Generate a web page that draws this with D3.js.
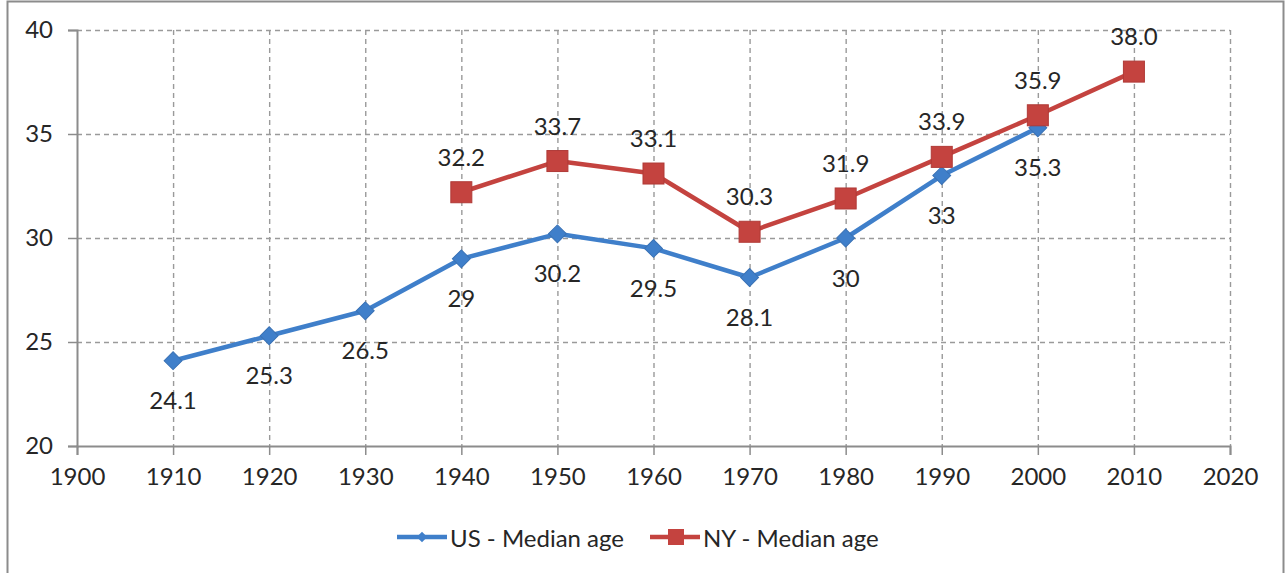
<!DOCTYPE html>
<html>
<head>
<meta charset="utf-8">
<script src="https://cdn.jsdelivr.net/npm/d3@7"></script>
<style>
  html, body { margin: 0; padding: 0; background: #fff; }
  #chart { width: 1286px; height: 573px; }
  text { font-family: Lato, "Open Sans", sans-serif; fill: #262626; }
</style>
</head>
<body>
<div id="chart"></div>
<script>
// Data
const usYears = [1910, 1920, 1930, 1940, 1950, 1960, 1970, 1980, 1990, 2000];
const usValues = [24.1, 25.3, 26.5, 29, 30.2, 29.5, 28.1, 30, 33, 35.3];
const usLabels = ["24.1", "25.3", "26.5", "29", "30.2", "29.5", "28.1", "30", "33", "35.3"];

const nyYears = [1940, 1950, 1960, 1970, 1980, 1990, 2000, 2010];
const nyValues = [32.2, 33.7, 33.1, 30.3, 31.9, 33.9, 35.9, 38.0];
const nyLabels = ["32.2", "33.7", "33.1", "30.3", "31.9", "33.9", "35.9", "38.0"];

const xTicks = [1900, 1910, 1920, 1930, 1940, 1950, 1960, 1970, 1980, 1990, 2000, 2010, 2020];
const yTicks = [20, 25, 30, 35, 40];

const blue = "#3f7fca";
const red = "#c4433f";
const gridColor = "#9a9a9a";
const fontSize = 24;

const width = 1286, height = 573;
const svg = d3.select("#chart").append("svg")
    .attr("width", width)
    .attr("height", height);

// outer chart border
svg.append("rect")
    .attr("x", 7.5).attr("y", 1.5)
    .attr("width", 1276).attr("height", 580)
    .attr("fill", "none")
    .attr("stroke", "#8c8c8c")
    .attr("stroke-width", 2);

const x = d3.scaleLinear().domain([1900, 2020]).range([77, 1230]);
const y = d3.scaleLinear().domain([20, 40]).range([446, 30]);

// grid lines
const grid = svg.append("g");
grid.selectAll(".hgrid")
    .data(yTicks.filter(d => d > 20))
    .enter().append("line")
    .attr("x1", x(1900)).attr("x2", x(2020))
    .attr("y1", d => y(d) + 0.5).attr("y2", d => y(d) + 0.5)
    .attr("stroke", gridColor)
    .attr("stroke-width", 1.4)
    .attr("stroke-dasharray", "5,4");
grid.selectAll(".vgrid")
    .data(xTicks.filter(d => d > 1900))
    .enter().append("line")
    .attr("x1", d => x(d) + 0.5).attr("x2", d => x(d) + 0.5)
    .attr("y1", y(40)).attr("y2", y(20))
    .attr("stroke", gridColor)
    .attr("stroke-width", 1.4)
    .attr("stroke-dasharray", "5,4");

// axes
const xAxis = svg.append("g")
    .attr("transform", `translate(0,${y(20)})`)
    .call(d3.axisBottom(x).tickValues(xTicks).tickFormat(d3.format("d")).tickSize(9).tickPadding(13));
const yAxis = svg.append("g")
    .attr("transform", `translate(${x(1900)},0)`)
    .call(d3.axisLeft(y).tickValues(yTicks).tickSize(9).tickPadding(15));

[xAxis, yAxis].forEach(a => {
    a.select(".domain").attr("stroke", "#8c8c8c").attr("stroke-width", 2);
    a.selectAll(".tick line").attr("stroke", "#8c8c8c").attr("stroke-width", 1.5);
    a.selectAll(".tick text")
        .attr("font-size", fontSize)
        .attr("font-family", "Lato, 'Open Sans', sans-serif")
        .attr("fill", "#262626");
});

const line = d3.line().x(d => x(d[0])).y(d => y(d[1]));
const usData = usYears.map((yr, i) => [yr, usValues[i], usLabels[i]]);
const nyData = nyYears.map((yr, i) => [yr, nyValues[i], nyLabels[i]]);

// US series
svg.append("path")
    .datum(usData)
    .attr("d", line)
    .attr("fill", "none")
    .attr("stroke", blue)
    .attr("stroke-width", 4.5)
    .attr("stroke-linejoin", "round");

const diamond = d3.symbol().type(d3.symbolSquare).size(160);
svg.selectAll(".usPt")
    .data(usData)
    .enter().append("path")
    .attr("d", diamond)
    .attr("transform", d => `translate(${x(d[0])},${y(d[1])}) rotate(45)`)
    .attr("fill", blue)
    .attr("stroke", "#3a72b5")
    .attr("stroke-width", 1);

// NY series
svg.append("path")
    .datum(nyData)
    .attr("d", line)
    .attr("fill", "none")
    .attr("stroke", red)
    .attr("stroke-width", 4.5)
    .attr("stroke-linejoin", "round");

svg.selectAll(".nyPt")
    .data(nyData)
    .enter().append("rect")
    .attr("x", d => x(d[0]) - 10.5)
    .attr("y", d => y(d[1]) - 10.5)
    .attr("width", 21).attr("height", 21)
    .attr("fill", red)
    .attr("stroke", "#b03a37")
    .attr("stroke-width", 1);

// data labels
svg.selectAll(".usLbl")
    .data(usData)
    .enter().append("text")
    .attr("x", d => x(d[0]))
    .attr("y", d => y(d[1]) + 39)
    .attr("text-anchor", "middle")
    .attr("dominant-baseline", "central")
    .attr("font-size", fontSize)
    .text(d => d[2]);

svg.selectAll(".nyLbl")
    .data(nyData)
    .enter().append("text")
    .attr("x", d => x(d[0]))
    .attr("y", d => y(d[1]) - 36)
    .attr("text-anchor", "middle")
    .attr("dominant-baseline", "central")
    .attr("font-size", fontSize)
    .text(d => d[2]);

// legend
const legend = svg.append("g").attr("transform", "translate(0,537)");
const series = [
    { name: "US - Median age", color: blue, x0: 397, shape: "diamond" },
    { name: "NY - Median age", color: red, x0: 650, shape: "square" }
];
series.forEach(s => {
    legend.append("line")
        .attr("x1", s.x0).attr("x2", s.x0 + 50)
        .attr("y1", 0).attr("y2", 0)
        .attr("stroke", s.color)
        .attr("stroke-width", 4.5);
    if (s.shape === "diamond") {
        legend.append("path")
            .attr("d", d3.symbol().type(d3.symbolSquare).size(55))
            .attr("transform", `translate(${s.x0 + 25},0) rotate(45)`)
            .attr("fill", s.color);
    } else {
        legend.append("rect")
            .attr("x", s.x0 + 18).attr("y", -8)
            .attr("width", 16).attr("height", 16)
            .attr("fill", s.color);
    }
    legend.append("text")
        .attr("x", s.x0 + 53)
        .attr("y", 0)
        .attr("dominant-baseline", "central")
        .attr("font-size", fontSize)
        .text(s.name);
});
</script>
</body>
</html>
